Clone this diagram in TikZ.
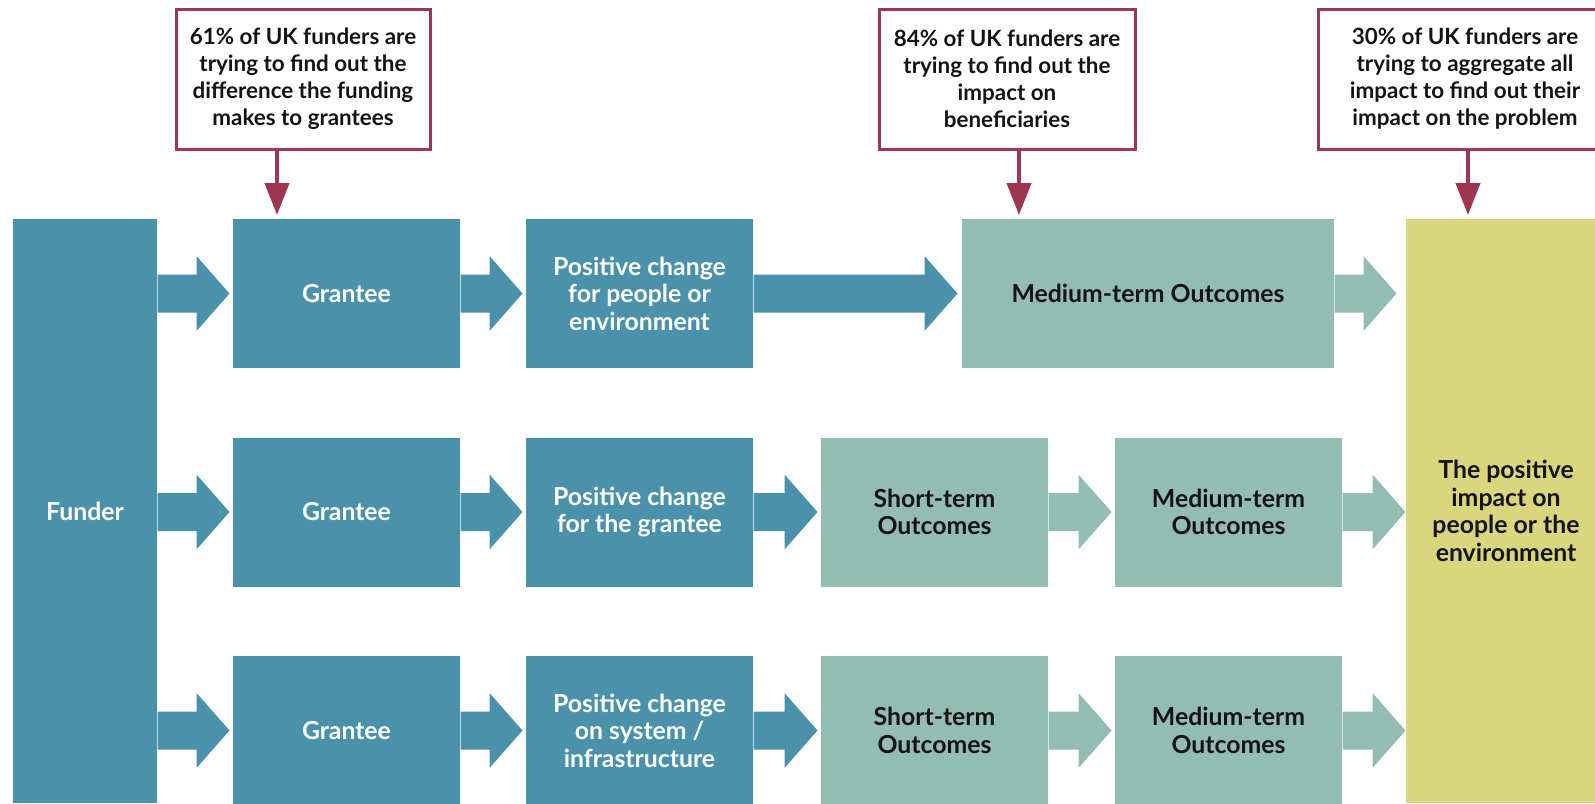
\documentclass[tikz,border=0pt]{standalone}
\usepackage{fontspec}
\setmainfont{Lato}
\usetikzlibrary{calc,arrows.meta}

\definecolor{tealc}{HTML}{4A91AB}
\definecolor{greenc}{HTML}{93BDB3}
\definecolor{yellowc}{HTML}{DAD67D}
\definecolor{maroonc}{HTML}{9E3551}
\definecolor{inkc}{HTML}{141414}

\newcommand{\flowfont}{\fontsize{18.6}{20.6}\selectfont\bfseries}
\newcommand{\notefont}{\fontsize{16.8}{20.25}\selectfont\bfseries}
% block arrow: [gap]{colour}{from}{to}
\newcommand{\blockarrow}[4][3]{%
	\path (#3) coordinate (ba-s) (#4) coordinate (ba-e);
	\fill[#2] ($(ba-s)+(0,-19)$) -- ($(ba-e)+(-#1-33,-19)$) -- ($(ba-e)+(-#1-33,-37.5)$) -- ($(ba-e)+(-#1,0)$) -- ($(ba-e)+(-#1-33,37.5)$) -- ($(ba-e)+(-#1-33,19)$) -- ($(ba-s)+(0,19)$) -- cycle;}

\tikzset{
	box/.style={inner sep=0pt, align=center, font=\flowfont, minimum width=170.25pt, minimum height=111.75pt},
	tealbox/.style={box, fill=tealc, text=white},
	greenbox/.style={box, fill=greenc, text=inkc},
	callout/.style={draw=maroonc, line width=2.25pt, fill=white, text=inkc, inner sep=0pt, align=center, font=\notefont, minimum height=105pt},
	callarrow/.style={draw=maroonc, line width=3pt, -{Triangle[width=18pt,length=24pt]}}}
\tikzset{every picture/.style={line width=0.75pt}}

\begin{document}
\begin{tikzpicture}[x=0.75pt,y=0.75pt,yscale=-1,xscale=1]
	\clip (0,0) rectangle (1595,803);

	%Shape: Funder and outcome columns
	\node[tealbox, minimum width=108pt, minimum height=438pt] (funder) at (85,511) {Funder};
	\node[box, fill=yellowc, text=inkc, minimum width=150pt, minimum height=438pt] (impact) at (1506,511) {The positive\\impact on\\people or the\\environment};

	%Row 1
	\node[tealbox] (grantA) at (346.5,293.5) {Grantee};
	\node[tealbox] (changeA) at (639.5,293.5) {Positive change\\for people or\\environment};
	\node[greenbox, minimum width=279pt] (medA) at (1148,293.5) {Medium-term Outcomes};
	%Row 2
	\node[tealbox] (grantB) at (346.5,512) {Grantee};
	\node[tealbox] (changeB) at (639.5,512) {Positive change\\for the grantee};
	\node[greenbox] (shortB) at (934.5,512) {Short-term\\Outcomes};
	\node[greenbox] (medB) at (1228.5,512) {Medium-term\\Outcomes};
	%Row 3
	\node[tealbox] (grantC) at (346.5,730.5) {Grantee};
	\node[tealbox] (changeC) at (639.5,730.5) {Positive change\\on system /\\infrastructure};
	\node[greenbox] (shortC) at (934.5,730.5) {Short-term\\Outcomes};
	\node[greenbox] (medC) at (1228.5,730.5) {Medium-term\\Outcomes};

	%Block arrows
	\blockarrow{tealc}{funder.east |- grantA.west}{grantA.west}
	\blockarrow{tealc}{grantA.east}{changeA.west}
	\blockarrow[4]{tealc}{changeA.east}{medA.west}
	\blockarrow[9]{greenc}{medA.east}{impact.west |- medA.east}
	\blockarrow{tealc}{funder.east |- grantB.west}{grantB.west}
	\blockarrow{tealc}{grantB.east}{changeB.west}
	\blockarrow{tealc}{changeB.east}{shortB.west}
	\blockarrow{greenc}{shortB.east}{medB.west}
	\blockarrow[0]{greenc}{medB.east}{impact.west |- medB.east}
	\blockarrow{tealc}{funder.east |- grantC.west}{grantC.west}
	\blockarrow{tealc}{grantC.east}{changeC.west}
	\blockarrow{tealc}{changeC.east}{shortC.west}
	\blockarrow{greenc}{shortC.east}{medC.west}
	\blockarrow[0]{greenc}{medC.east}{impact.west |- medC.east}

	%Callouts
	\node[callout, minimum width=190.5pt] (noteA) at (303,79) {61\% of UK funders are\\trying to find out the\\difference the funding\\makes to grantees};
	\node[callout, minimum width=192pt] (noteB) at (1007,79) {84\% of UK funders are\\trying to find out the\\impact on\\beneficiaries};
	\node[callout, minimum width=220.5pt] (noteC) at (1465,79) {30\% of UK funders are\\trying to aggregate all\\impact to find out their\\impact on the problem};
	\coordinate (tipA) at (277,215);
	\coordinate (tipB) at (1019,215);
	\coordinate (tipC) at (1468,215);
	\draw[callarrow] (tipA |- noteA.south) -- (tipA);
	\draw[callarrow] (tipB |- noteB.south) -- (tipB);
	\draw[callarrow] (tipC |- noteC.south) -- (tipC);

\end{tikzpicture}
\end{document}
